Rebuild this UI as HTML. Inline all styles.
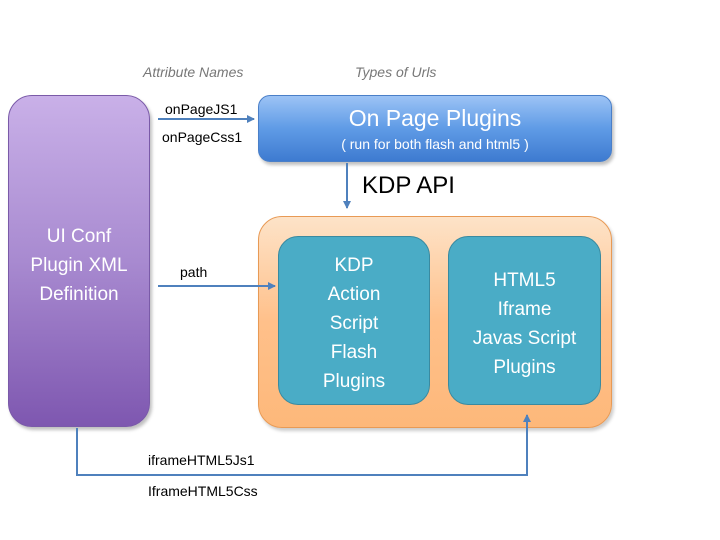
<!DOCTYPE html>
<html><head><style>
body{margin:0;width:720px;height:540px;background:#fff;position:relative;font-family:"Liberation Sans",sans-serif;overflow:hidden}
.a{position:absolute}
.t{font-size:14px;color:#000}
</style></head><body>
<div class="a" style="left:8px;top:95px;width:142px;height:332px;border-radius:24px;background:linear-gradient(#c9b0e8,#a88ad0 50%,#7e57b0);border:1px solid #7a5aa8;box-sizing:border-box;box-shadow:2px 3px 3px rgba(0,0,0,.25)"></div>
<div class="a" style="left:8px;top:222px;width:142px;text-align:center;color:#fff;font-size:19px;line-height:29px">UI Conf<br>Plugin XML<br>Definition</div>
<div class="a" style="left:258px;top:95px;width:354px;height:67px;border-radius:12px;background:linear-gradient(#9cc3f5,#5f9be6 50%,#3e7bd0);box-sizing:border-box;border:1px solid #4a7fc8;box-shadow:2px 3px 3px rgba(0,0,0,.25)"></div>
<div class="a" style="left:258px;top:105px;width:354px;text-align:center;color:#fff;font-size:23px">On Page Plugins</div>
<div class="a" style="left:258px;top:136px;width:354px;text-align:center;color:#fff;font-size:14px">( run for both flash and html5 )</div>
<div class="a" style="left:258px;top:216px;width:354px;height:212px;border-radius:24px;background:linear-gradient(#fde3c8,#ffc08a 50%,#fdb87a);border:1px solid #e89a55;box-sizing:border-box;box-shadow:2px 3px 3px rgba(0,0,0,.2)"></div>
<div class="a" style="left:278px;top:236px;width:152px;height:169px;border-radius:20px;background:#4aacc6;border:1px solid #3a8aa0;box-sizing:border-box"></div>
<div class="a" style="left:278px;top:251px;width:152px;text-align:center;color:#fff;font-size:19px;line-height:29px">KDP<br>Action<br>Script<br>Flash<br>Plugins</div>
<div class="a" style="left:448px;top:236px;width:153px;height:169px;border-radius:20px;background:#4aacc6;border:1px solid #3a8aa0;box-sizing:border-box"></div>
<div class="a" style="left:448px;top:266px;width:153px;text-align:center;color:#fff;font-size:19px;line-height:29px">HTML5<br>Iframe<br>Javas Script<br>Plugins</div>
<div class="a" style="left:143px;top:64px;font-size:14px;color:#777;font-style:italic">Attribute Names</div>
<div class="a" style="left:355px;top:64px;font-size:14px;color:#777;font-style:italic">Types of Urls</div>
<div class="a t" style="left:165px;top:101px">onPageJS1</div>
<div class="a t" style="left:162px;top:129px">onPageCss1</div>
<div class="a t" style="left:180px;top:264px">path</div>
<div class="a t" style="left:148px;top:452px">iframeHTML5Js1</div>
<div class="a t" style="left:148px;top:483px">IframeHTML5Css</div>
<div class="a" style="left:362px;top:172px;font-size:24px">KDP API</div>
<svg class="a" style="left:0;top:0" width="720" height="540">
<defs><marker id="m" markerWidth="8" markerHeight="8" refX="7" refY="4" orient="auto" markerUnits="userSpaceOnUse"><path d="M0,0L8,4L0,8z" fill="#4f81bd"/></marker></defs>
<g stroke="#4f81bd" stroke-width="2" fill="none">
<line x1="158" y1="119" x2="254" y2="119" marker-end="url(#m)"/>
<line x1="347" y1="163" x2="347" y2="208" marker-end="url(#m)"/>
<line x1="158" y1="286" x2="275" y2="286" marker-end="url(#m)"/>
<polyline points="77,428 77,475 527,475 527,415" marker-end="url(#m)"/>
</g></svg>
</body></html>
